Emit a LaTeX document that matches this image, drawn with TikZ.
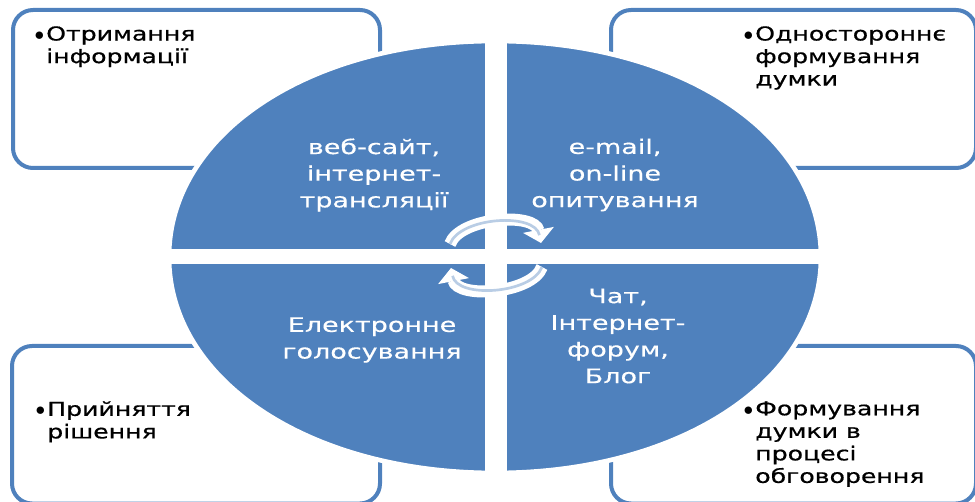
\documentclass[tikz,border=0pt]{standalone}
\usepackage{fontspec}
\setmainfont{DejaVu Sans}
\newfontfamily\notefont[FakeStretch=1.31, FakeBold=0.6]{DejaVu Sans}
\newfontfamily\sectorfont[FakeStretch=1.35, FakeBold=0.4]{DejaVu Sans}
\usetikzlibrary{arrows.meta, positioning}
\definecolor{panelblue}{HTML}{4F81BD}
\definecolor{arrowblue}{HTML}{B9CDE5}
\newcommand{\notedot}{\llap{$\bullet$\hspace{1.5pt}}}
\tikzset{
	panel/.style={draw=panelblue, line width=3pt, rounded corners=15pt, fill=white},
	note/.style={anchor=north west, align=left, inner sep=0pt, font=\notefont\fontsize{14.4}{16.9}\selectfont},
	sector/.style={align=center, inner sep=0pt, text=white, font=\sectorfont\fontsize{15}{20}\selectfont},
	turn/.style={draw=white, line width=9pt, -{Triangle[length=10pt, width=23pt]}},
	turninner/.style={draw=arrowblue, line width=2pt, shorten >=6pt}
}
\begin{document}
\begin{tikzpicture}[x=0.75pt, y=-0.75pt]
	\useasboundingbox (0,0) rectangle (975,502);
	% panels behind the disc
	\draw[panel] (13,10) rectangle (380,168);
	\draw[panel] (611,10) rectangle (976,168);
	\draw[panel] (12,346) rectangle (380,503.5);
	\draw[panel] (611,346) rectangle (976,503.5);

	\draw[fill=panelblue, draw=white, line width=3.5pt] (169,257) .. controls (169,134) and (309,41) .. (495,41) .. controls (681,41) and (821,134) .. (821,257) .. controls (821,380) and (681,473) .. (495,473) .. controls (309,473) and (169,380) .. (169,257) -- cycle;
	\draw[white, line width=16pt] (496,30) -- (496,485);
	\draw[white, line width=11.5pt] (160,256.5) -- (830,256.5);

	% turning arrows
	\coordinate (upfrom) at (450,244);
	\coordinate (upto) at (541,243);
	\coordinate (lowfrom) at (542,267);
	\coordinate (lowto) at (451,268);
	\draw[turn] (upfrom) .. controls (460,217) and (535,212) .. (upto);
	\draw[turninner] (upfrom) .. controls (460,217) and (535,212) .. (upto);
	\draw[turn] (lowfrom) .. controls (532,294) and (457,299) .. (lowto);
	\draw[turninner] (lowfrom) .. controls (532,294) and (457,299) .. (lowto);

	% panel texts
	\node[note] (gettext) at (46,26) {\notedot Отримання\\інформації};
	\node[note] (onetext) at (755,26) {\notedot Одностороннє\\формування\\думки};
	\node[note] (votetext) at (47,401) {\notedot Прийняття\\рішення};
	\node[note] (talktext) at (755,401) {\notedot Формування\\думки в\\процесі\\обговорення};

	% disc texts
	\node[sector] (webtext) at (374,175) {веб-сайт,\\інтернет-\\трансляції};
	\node[sector] (mailtext) at (615,175) {e-mail,\\on-line\\опитування};
	\node[sector] (polltext) at (372,340) {Електронне\\голосування};
	\node[sector] (chattext) at (618,336) {Чат,\\Інтернет-\\форум,\\Блог};
\end{tikzpicture}
\end{document}
